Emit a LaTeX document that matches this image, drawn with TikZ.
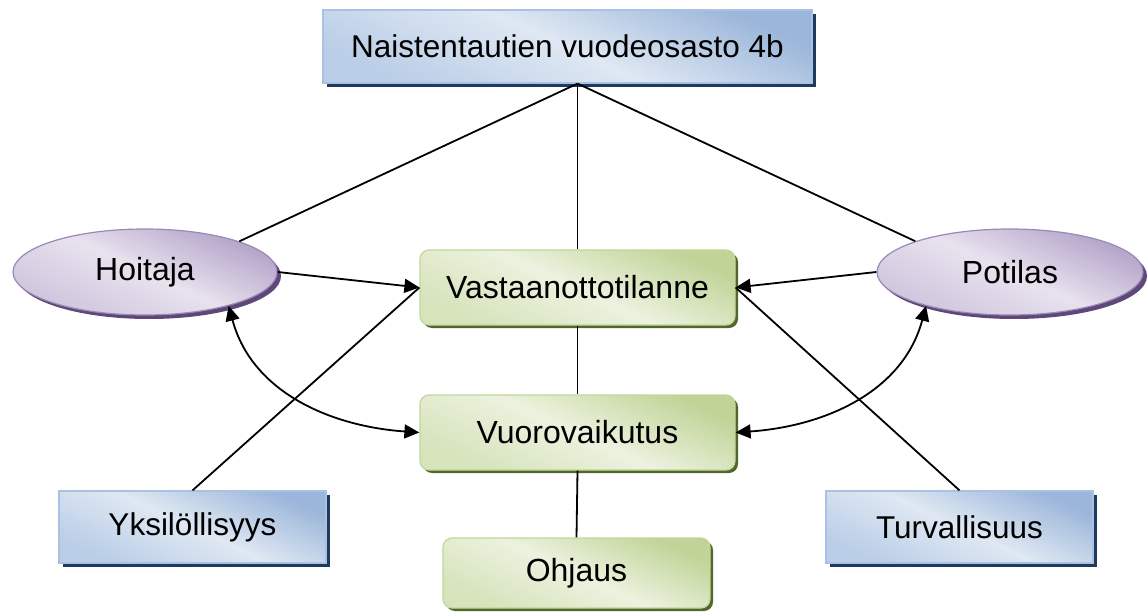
\documentclass[tikz,border=0pt]{standalone}
\usepackage{fontspec}
\setmainfont{Liberation Sans}
\usetikzlibrary{shapes.geometric,shadows,arrows.meta}
\definecolor{bluedark}{HTML}{9BB6DA}
\definecolor{bluelight}{HTML}{DFE8F3}
\definecolor{bluemid}{HTML}{BACEE7}
\definecolor{blueedge}{HTML}{A9C1E2}
\definecolor{blueshadow}{HTML}{1F3A5C}
\definecolor{greendark}{HTML}{C0D497}
\definecolor{greenlight}{HTML}{ECF2DF}
\definecolor{greenmid}{HTML}{D6E3BB}
\definecolor{greenedge}{HTML}{C3D69B}
\definecolor{greenshadow}{HTML}{52672A}
\definecolor{purpledark}{HTML}{B2A2C8}
\definecolor{purplelight}{HTML}{E8E2EE}
\definecolor{purplemid}{HTML}{CFC4DD}
\definecolor{purpleedge}{HTML}{9C88B6}
\definecolor{purpleshadow}{HTML}{5E4879}
\tikzset{
  bluebox/.style={rectangle, draw=blueedge, line width=1.2pt,
    top color=bluedark, bottom color=bluemid, middle color=bluelight, shading angle=-25,
    drop shadow={shadow xshift=4pt, shadow yshift=-4pt, opacity=1, fill=blueshadow},
    font=\fontsize{31.5}{36}\selectfont, text=black, inner sep=0pt},
  greenbox/.style={rectangle, rounded corners=9pt, draw=greenedge, line width=1.2pt,
    top color=greendark, bottom color=greenmid, middle color=greenlight, shading angle=-25,
    drop shadow={shadow xshift=3pt, shadow yshift=-3pt, opacity=1, fill=greenshadow},
    font=\fontsize{32}{36}\selectfont, text=black, inner sep=0pt},
  purpleell/.style={ellipse, draw=purpleedge, line width=1.2pt,
    top color=purpledark, bottom color=purplemid, middle color=purplelight, shading angle=-25,
    drop shadow={shadow xshift=4pt, shadow yshift=-4pt, opacity=1, fill=purpleshadow},
    font=\fontsize{32}{36}\selectfont, text=black, inner sep=0pt},
  conn/.style={line width=1.8pt, black},
  tip/.style={line width=1.8pt, black, -{Triangle[length=15pt,width=14pt]}},
  dtip/.style={line width=1.8pt, black, {Triangle[length=15pt,width=14pt]}-{Triangle[length=15pt,width=14pt]}}
}
\begin{document}
\begin{tikzpicture}[x=1pt,y=-1pt]
\useasboundingbox (0,0) rectangle (1148,612);
\node[bluebox, minimum width=489pt, minimum height=73pt] (top) at (567.5,46.5) {Naistentautien vuodeosasto 4b};
\node[purpleell, minimum width=264pt, minimum height=86pt] (hoit) at (145,272) {Hoitaja};
\node[purpleell, minimum width=266pt, minimum height=86pt] (pot) at (1010,272) {Potilas};
\node[greenbox, minimum width=315pt, minimum height=75pt] (vast) at (577.5,287.5) {Vastaanottotilanne};
\node[greenbox, minimum width=315pt, minimum height=75pt] (vuoro) at (577.5,432.5) {Vuorovaikutus};
\node[greenbox, minimum width=267pt, minimum height=70pt] (ohj) at (576.5,573) {Ohjaus};
\node[bluebox, minimum width=267pt, minimum height=72pt] (yks) at (192.5,527) {Yksilöllisyys};
\node[bluebox, minimum width=267pt, minimum height=72pt] (turv) at (959.5,527) {Turvallisuus};
\coordinate (apex) at (top.south -| vast.north);
\draw[conn] (apex) -- (hoit.18);
\draw[conn] (apex) -- (vast.north);
\draw[conn] (apex) -- (pot.162);
\draw[tip] (hoit.east) -- (vast.west);
\draw[tip] (pot.west) -- (vast.east);
\draw[conn] (yks.north) -- (vast.west);
\draw[conn] (turv.north) -- (vast.east);
\draw[conn] (vast.south) -- (vuoro.north);
\draw[conn] (vuoro.south) -- (ohj.north);
\draw[dtip] (hoit.-22) to[out=-75, in=176] (vuoro.west);
\draw[dtip] (pot.202) to[out=-105, in=4] (vuoro.east);
\end{tikzpicture}
\end{document}
